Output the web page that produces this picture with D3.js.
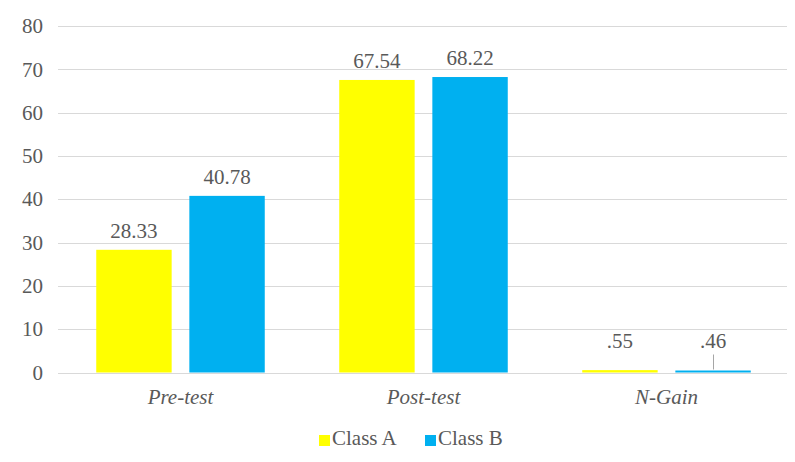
<!DOCTYPE html>
<html>
<head>
<script src="https://cdn.jsdelivr.net/npm/d3@7"></script>
<style>
  svg text { font-family: "Times New Roman", "Liberation Serif", serif !important; }
</style>
</head>
<body style="margin:0">
<script>
var categories = ["Pre-test", "Post-test", "N-Gain"];
var series = ["Class A", "Class B"];
var classA = [28.33, 67.54, 0.55];
var classB = [40.78, 68.22, 0.46];
var labelsA = ["28.33", "67.54", ".55"];
var labelsB = ["40.78", "68.22", ".46"];
var yTicks = [0, 10, 20, 30, 40, 50, 60, 70, 80];
var colors = ["#ffff00", "#00b0f0"];

var serifFont = "'Times New Roman', 'Liberation Serif', serif";
var textColor = "#595959";
var width = 795, height = 462;
var svg = d3.select("body").append("svg")
    .attr("width", width)
    .attr("height", height);

var x = d3.scaleBand()
    .domain(categories)
    .range([59, 788]);

var xs = d3.scaleBand()
    .domain(series)
    .range([0, x.bandwidth()])
    .paddingInner(0.19)
    .paddingOuter(0.4);

var y = d3.scaleLinear()
    .domain([0, 80])
    .range([372.5, 26]);

// gridlines
svg.append("g")
    .selectAll("line")
    .data(yTicks)
    .enter()
        .append("line")
        .attr("x1", 58)
        .attr("x2", 787)
        .attr("y1", function (d) { return Math.round(y(d)) + 0.5; })
        .attr("y2", function (d) { return Math.round(y(d)) + 0.5; })
        .attr("stroke", "#d9d9d9")
        .attr("stroke-width", 1);

// y axis labels
var yAxis = d3.axisLeft(y).tickValues(yTicks).tickSize(0).tickPadding(0);
var ga = svg.append("g")
    .attr("transform", "translate(43,0)")
    .call(yAxis)
    .attr("font-family", serifFont)
    .attr("font-size", 21);
ga.select(".domain").remove();
ga.selectAll("text")
    .attr("fill", textColor);

var rows = categories.map(function (c, i) {
    return {cat: c, vals: [classA[i], classB[i]], labels: [labelsA[i], labelsB[i]]};
});

var groups = svg.append("g")
    .selectAll("g")
    .data(rows)
    .enter()
        .append("g")
        .attr("transform", function (d) { return "translate(" + x(d.cat) + ",0)"; });

groups.selectAll("rect")
    .data(function (d) { return d.vals.map(function (v, j) { return {s: series[j], v: v, j: j}; }); })
    .enter()
        .append("rect")
        .attr("x", function (d) { return xs(d.s); })
        .attr("width", xs.bandwidth())
        .attr("y", function (d) { return y(d.v); })
        .attr("height", function (d) { return Math.max(y(0) - y(d.v), 1.5); })
        .attr("fill", function (d) { return colors[d.j]; });

// value labels (N-Gain labels sit higher, like moved labels in the original)
groups.selectAll("text.val")
    .data(function (d) {
        return d.vals.map(function (v, j) { return {s: series[j], v: v, t: d.labels[j], small: d.cat === "N-Gain"}; });
    })
    .enter()
        .append("text")
        .attr("class", "val")
        .attr("text-anchor", "middle")
        .attr("x", function (d) { return xs(d.s) + xs.bandwidth() / 2; })
        .attr("y", function (d) { return d.small ? y(0) - 25 : y(d.v) - 12; })
        .attr("fill", textColor)
        .attr("font-family", serifFont)
        .attr("font-size", 21)
        .text(function (d) { return d.t; });

// leader line for .46
var lx = Math.round(x("N-Gain") + xs("Class B") + xs.bandwidth() / 2) + 0.5;
svg.append("line")
    .attr("x1", lx).attr("x2", lx)
    .attr("y1", y(0) - 18).attr("y2", y(classB[2]) - 1)
    .attr("stroke", "#a6a6a6")
    .attr("stroke-width", 1);

// category labels
svg.append("g")
    .selectAll("text")
    .data(categories)
    .enter()
        .append("text")
        .attr("x", function (d) { return x(d) + x.bandwidth() / 2; })
        .attr("y", 404)
        .attr("text-anchor", "middle")
        .attr("fill", textColor)
        .attr("font-family", serifFont)
        .attr("font-size", 21)
        .attr("font-style", "italic")
        .text(function (d) { return d; });

// legend
var legend = svg.append("g")
    .selectAll("g")
    .data(series)
    .enter()
        .append("g")
        .attr("transform", function (d, i) { return "translate(" + (319 + i * 106) + ",435)"; });
legend.append("rect")
    .attr("width", 11)
    .attr("height", 11)
    .attr("fill", function (d, i) { return colors[i]; });
legend.append("text")
    .attr("x", 13)
    .attr("y", 10)
    .attr("fill", textColor)
    .attr("font-family", serifFont)
    .attr("font-size", 21)
    .text(function (d) { return d; });
</script>
</body>
</html>
